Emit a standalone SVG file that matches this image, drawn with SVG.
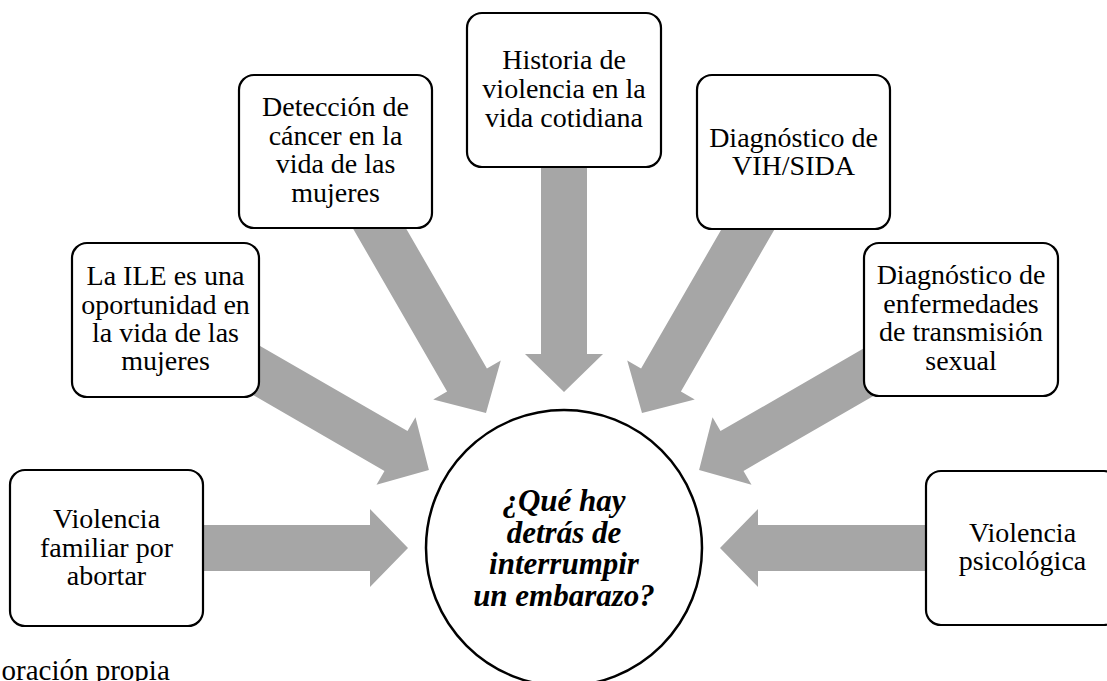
<svg xmlns="http://www.w3.org/2000/svg" width="1107" height="681" viewBox="0 0 1107 681">
<style>
.arrow{fill:#A6A6A6;stroke:none}
.box{fill:#FFFFFF;stroke:#000000;stroke-width:2.2}
.lbl{font-family:"Liberation Serif","Times New Roman",serif;font-size:28px;fill:#000000;text-anchor:middle}
.ctr{font-family:"Liberation Serif","Times New Roman",serif;font-size:31px;font-weight:bold;font-style:italic;fill:#000000;text-anchor:middle}
.src{font-family:"Liberation Serif","Times New Roman",serif;font-size:29px;fill:#000000}
</style>
<defs>
<path id="arr" d="M-232,-23 L-38,-23 L-38,-39 L0,0 L-38,39 L-38,23 L-232,23 Z"/>
</defs>
<rect width="1107" height="681" fill="#FFFFFF"/>
<g id="connectors">
<use href="#arr" class="arrow" transform="translate(408,548) rotate(0)"/>
<use href="#arr" class="arrow" transform="translate(428.9,470) rotate(30)"/>
<use href="#arr" class="arrow" transform="translate(486,412.9) rotate(60)"/>
<use href="#arr" class="arrow" transform="translate(564,392) rotate(90)"/>
<use href="#arr" class="arrow" transform="translate(642,412.9) rotate(120)"/>
<use href="#arr" class="arrow" transform="translate(699.1,470) rotate(150)"/>
<use href="#arr" class="arrow" transform="translate(720,548) rotate(180)"/>
</g>
<g id="center">
<circle cx="564" cy="548" r="138" fill="#FFFFFF" stroke="#000000" stroke-width="2.5"/>
<text class="ctr" x="564" y="511">¿Qué hay</text>
<text class="ctr" x="564" y="543">detrás de</text>
<text class="ctr" x="564" y="574">interrumpir</text>
<text class="ctr" x="564" y="606">un embarazo?</text>
</g>
<g id="n1">
<rect class="box" x="10" y="470" width="193" height="156" rx="15"/>
<text class="lbl" x="106.5" y="528">Violencia</text>
<text class="lbl" x="106.5" y="557">familiar por</text>
<text class="lbl" x="106.5" y="585">abortar</text>
</g>
<g id="n2">
<rect class="box" x="72" y="243" width="187" height="154" rx="15"/>
<text class="lbl" x="165.5" y="285">La ILE es una</text>
<text class="lbl" x="165.5" y="314">oportunidad en</text>
<text class="lbl" x="165.5" y="342">la vida de las</text>
<text class="lbl" x="165.5" y="370">mujeres</text>
</g>
<g id="n3">
<rect class="box" x="239" y="75" width="193" height="153" rx="15"/>
<text class="lbl" x="335.5" y="116">Detección de</text>
<text class="lbl" x="335.5" y="145">cáncer en la</text>
<text class="lbl" x="335.5" y="173">vida de las</text>
<text class="lbl" x="335.5" y="202">mujeres</text>
</g>
<g id="n4">
<rect class="box" x="467" y="13" width="194" height="154" rx="15"/>
<text class="lbl" x="564" y="69">Historia de</text>
<text class="lbl" x="564" y="98">violencia en la</text>
<text class="lbl" x="564" y="127">vida cotidiana</text>
</g>
<g id="n5">
<rect class="box" x="697" y="75" width="193" height="154" rx="15"/>
<text class="lbl" x="793.5" y="147">Diagnóstico de</text>
<text class="lbl" x="793.5" y="175">VIH/SIDA</text>
</g>
<g id="n6">
<rect class="box" x="864" y="243" width="194" height="153" rx="15"/>
<text class="lbl" x="961" y="284">Diagnóstico de</text>
<text class="lbl" x="961" y="313">enfermedades</text>
<text class="lbl" x="961" y="341">de transmisión</text>
<text class="lbl" x="961" y="370">sexual</text>
</g>
<g id="n7">
<rect class="box" x="926" y="471" width="193" height="154" rx="15"/>
<text class="lbl" x="1022.5" y="542">Violencia</text>
<text class="lbl" x="1022.5" y="570">psicológica</text>
</g>
<text class="src" x="1.5" y="680">oración propia</text>
</svg>
